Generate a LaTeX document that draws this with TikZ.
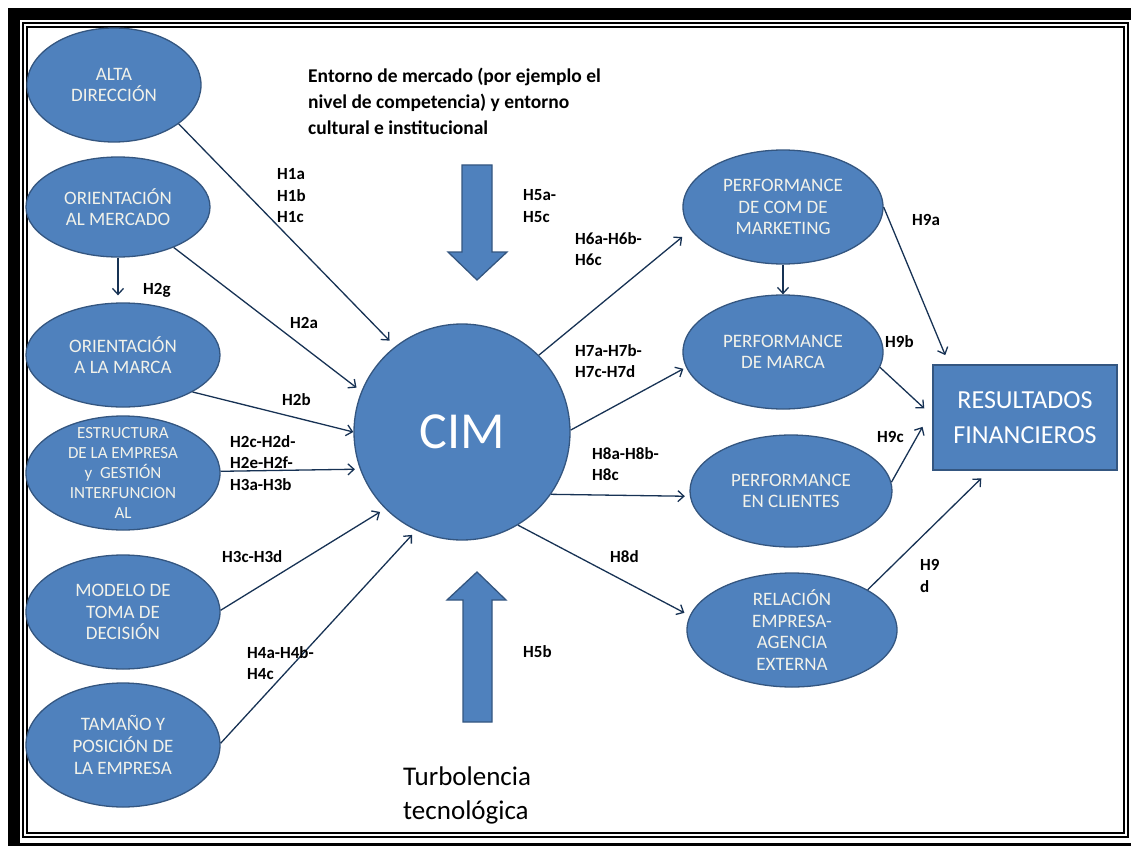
\documentclass[tikz,border=0pt]{standalone}
\usepackage{fontspec}
\setmainfont{Carlito}
\usetikzlibrary{shapes.geometric}
\usetikzlibrary{arrows.meta}

\definecolor{ovalblue}{RGB}{79,129,189}
\definecolor{ovalline}{RGB}{52,86,128}
\definecolor{linkcol}{RGB}{23,50,84}
\definecolor{ovaltext}{RGB}{242,242,234}

\tikzset{
  oval/.style={ellipse, draw=ovalline, fill=ovalblue, line width=1.3pt, inner sep=0pt},
  ovaltxt/.style={text=ovaltext, align=center, inner sep=0pt, font=\fontsize{19}{21.7}\selectfont},
  hyp/.style={anchor=west, align=left, inner sep=0pt, font=\bfseries\fontsize{17}{21.5}\selectfont},
  link/.style={draw=linkcol, line width=1.3pt, -{Straight Barb[length=6pt,width=11pt]}},
  blockarrow/.style={fill=ovalblue, draw=ovalline, line width=1.3pt, line join=miter}
}

\begin{document}
\begin{tikzpicture}[x=1pt,y=-1pt]
\useasboundingbox (0,0) rectangle (1131,845);
\clip (0,0) rectangle (1131,845);

% marco
\draw[black, line width=12pt] (13.5,14) rectangle (1140,849);
\draw[black, line width=2pt, double=white, double distance=2pt] (25,25) rectangle (1125.5,835);

% lado izquierdo
\node[oval, minimum width=174pt, minimum height=114pt, label={[ovaltxt]center:{ALTA\\DIRECCIÓN}}] (alta) at (114,85) {};
\node[oval, minimum width=184pt, minimum height=100pt, label={[ovaltxt]center:{ORIENTACIÓN\\AL MERCADO}}] (mercado) at (118,207) {};
\node[oval, minimum width=194pt, minimum height=104pt, label={[ovaltxt]center:{ORIENTACIÓN\\A LA MARCA}}] (marca) at (123,355) {};
\node[oval, minimum width=194pt, minimum height=114pt, label={[ovaltxt, font=\fontsize{17}{20}\selectfont]center:{ESTRUCTURA\\DE LA EMPRESA\\y\ \ GESTIÓN\\INTERFUNCION\\AL}}] (estruc) at (123,473) {};
\node[oval, minimum width=194pt, minimum height=114pt, label={[ovaltxt]center:{MODELO DE\\TOMA DE\\DECISIÓN}}] (modelo) at (123,612) {};
\node[oval, minimum width=194pt, minimum height=124pt, label={[ovaltxt]center:{TAMAÑO Y\\POSICIÓN DE\\LA EMPRESA}}] (tamano) at (123,745) {};

% centro
\node[circle, draw=ovalline, fill=ovalblue, line width=1.3pt, minimum size=216pt, text=white, font=\fontsize{52}{60}\selectfont] (cim) at (462,432) {CIM};

\filldraw[blockarrow] (462,165) -- (492,165) -- (492,252) -- (507,252) -- (477,280) -- (448,252) -- (462,252) -- cycle;
\filldraw[blockarrow] (463,722) -- (492,722) -- (492,600) -- (506,600) -- (477,572) -- (447,600) -- (463,600) -- cycle;

\node[anchor=west, align=left, inner sep=0pt, font=\bfseries\fontsize{19.5}{26}\selectfont] (entorno) at (308,101)
  {Entorno de mercado (por ejemplo el\\nivel de competencia) y entorno\\cultural e institucional};
\node[anchor=west, align=left, inner sep=0pt, font=\fontsize{27}{34}\selectfont] (turbo) at (403,795)
  {Turbolencia\\tecnológica};

% lado derecho
\node[oval, minimum width=200pt, minimum height=114pt, label={[ovaltxt]center:{PERFORMANCE\\DE COM DE\\MARKETING}}] (perfcom) at (783,207) {};
\node[oval, minimum width=200pt, minimum height=114pt, label={[ovaltxt]center:{PERFORMANCE\\DE MARCA}}] (perfmarca) at (783,352) {};
\node[oval, minimum width=202pt, minimum height=112pt, label={[ovaltxt]center:{PERFORMANCE\\EN CLIENTES}}] (clientes) at (791,491) {};
\node[oval, minimum width=210pt, minimum height=114pt, label={[ovaltxt]center:{RELACIÓN\\EMPRESA-\\AGENCIA\\EXTERNA}}] (relacion) at (792,630) {};

\node[rectangle, draw=ovalline, fill=ovalblue, line width=1.3pt, minimum width=184pt, minimum height=105pt, text=white, align=center, font=\fontsize{26}{35}\selectfont] (result) at (1025,417.5) {RESULTADOS\\FINANCIEROS};

% flechas
\draw[link, shorten >=8pt] (alta.-31) -- (cim.128);
\draw[link, shorten >=6pt] (mercado.-36) -- (cim.158);
\draw[link, shorten >=7pt] (mercado.south) -- (mercado.south |- marca.north);
\draw[link] (marca.-28) -- (cim.180);
\draw[link, shorten >=5pt] (estruc.1) -- (cim.200);
\draw[link, shorten >=6pt] (modelo.1) -- (cim.225);
\draw[link, shorten >=6pt] (tamano.1) -- (cim.245);

\draw[link, shorten >=11pt] (cim.45) -- (perfcom.194);
\draw[link, shorten >=3pt] (cim.1) -- (perfmarca.189);
\draw[link, shorten >=5pt] (cim.-35) -- (clientes.183);
\draw[link, shorten >=6pt] (cim.-59) -- (relacion.172);
\draw[link] (perfcom.south) -- (perfmarca.north);

\draw[link, shorten >=10pt] (perfcom.east) -- (result.145);
\draw[link, shorten >=11pt] (perfmarca.-9) -- (result.179);
\draw[link, shorten >=20pt] (clientes.5) -- (result.175);
\draw[link, shorten >=11pt] (relacion.28) -- (result.236);

% hipotesis
\node[hyp] (h1) at (277,196) {H1a\\H1b\\H1c};
\node[hyp] (h2g) at (143,290) {H2g};
\node[hyp] (h2a) at (290,323) {H2a};
\node[hyp] (h2b) at (282,400) {H2b};
\node[hyp] (h2c) at (230,463) {H2c-H2d-\\H2e-H2f-\\H3a-H3b};
\node[hyp] (h3c) at (222,557) {H3c-H3d};
\node[hyp] (h4) at (247,663) {H4a-H4b-\\H4c};
\node[hyp] (h5a) at (523,206) {H5a-\\H5c};
\node[hyp] (h5b) at (523,652) {H5b};
\node[hyp] (h6) at (575,249) {H6a-H6b-\\H6c};
\node[hyp] (h7) at (575,361) {H7a-H7b-\\H7c-H7d};
\node[hyp] (h8) at (592,464) {H8a-H8b-\\H8c};
\node[hyp] (h8d) at (610,557) {H8d};
\node[hyp] (h9a) at (912,220) {H9a};
\node[hyp] (h9b) at (885,342) {H9b};
\node[hyp] (h9c) at (877,437) {H9c};
\node[hyp] (h9d) at (920,576) {H9\\d};
\end{tikzpicture}
\end{document}
